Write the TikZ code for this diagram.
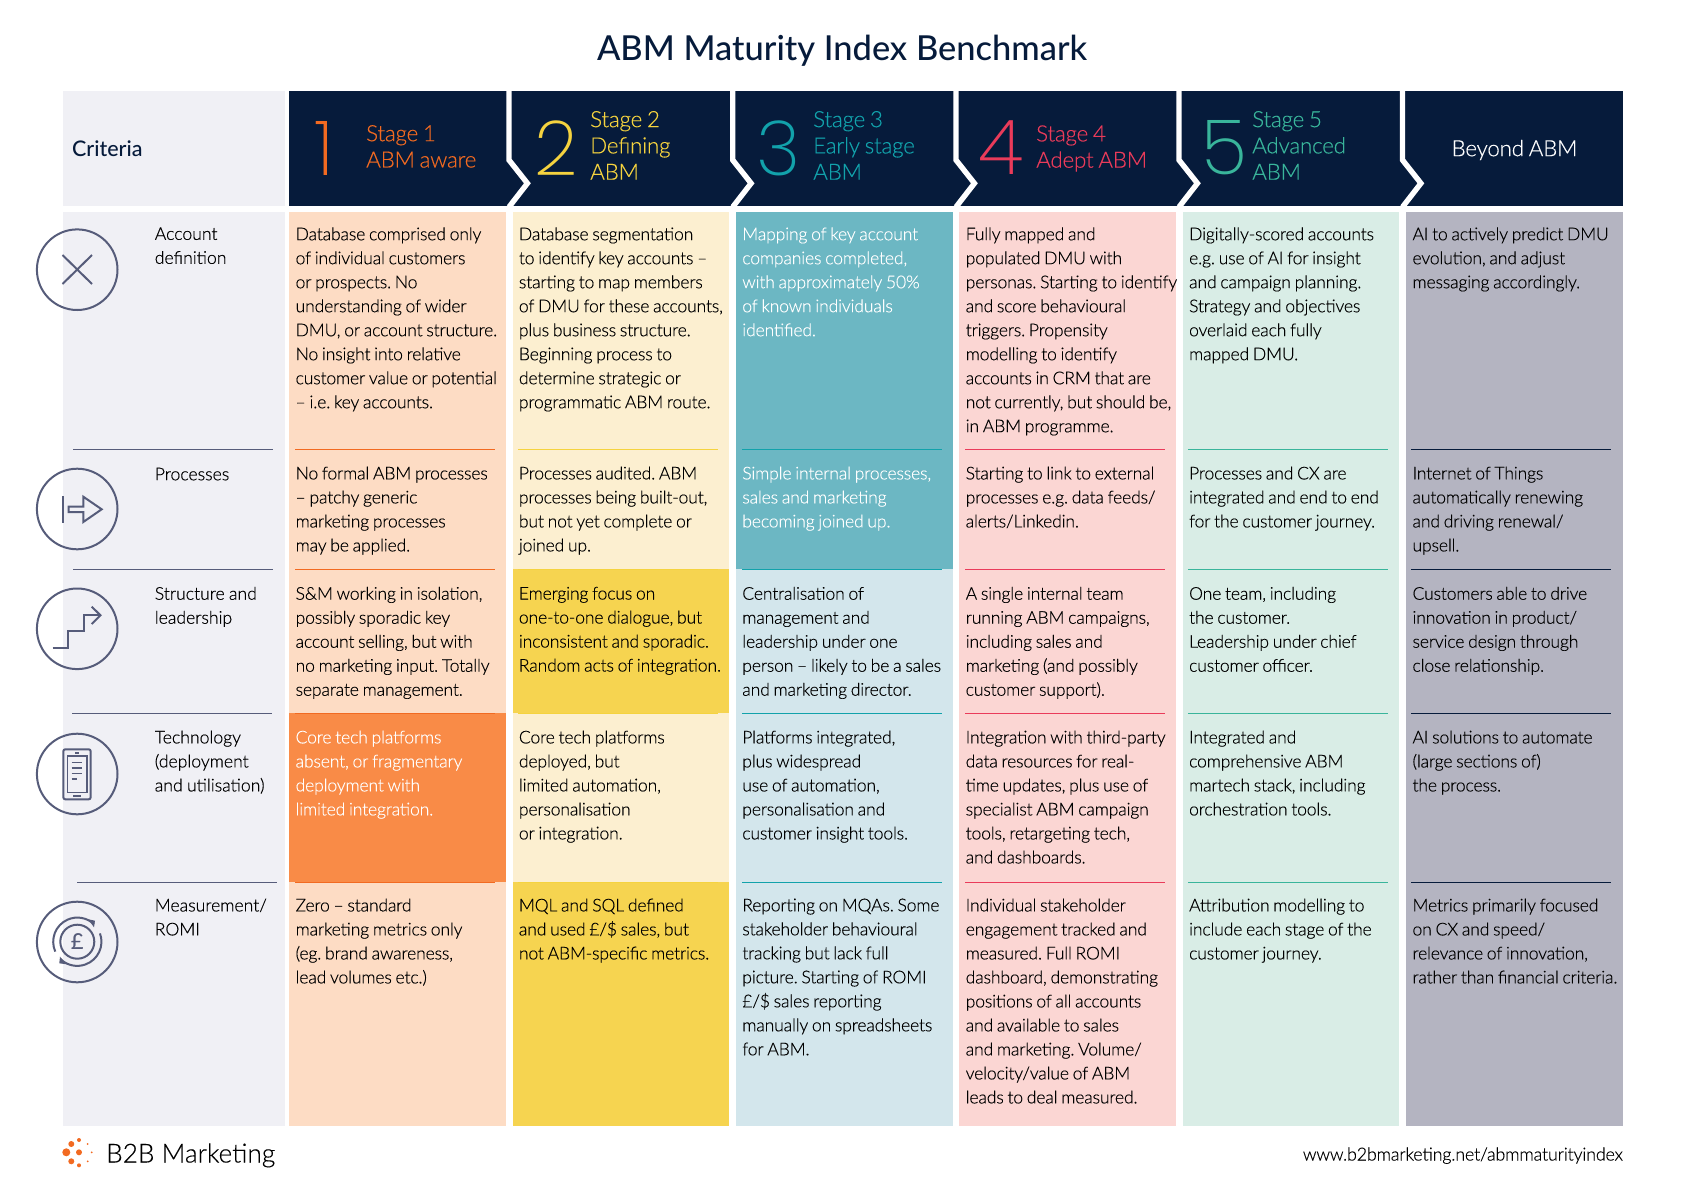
\documentclass[tikz,border=0pt]{standalone}
\usepackage{fontspec}
\setmainfont{Lato}[UprightFont=* Light,BoldFont=* Medium,UprightFeatures={FakeBold=0.25}]
\newfontfamily\numfont{Poppins}[UprightFont=* ExtraLight]
\newfontfamily\tightfont{Lato}[UprightFont=* Light,UprightFeatures={FakeBold=0.25},LetterSpace=-1,WordSpace=0.8]
\newfontfamily\critfont{Lato}[UprightFont=* Light,UprightFeatures={FakeBold=0.45},WordSpace=0.9]
\definecolor{navy}{HTML}{061B3B}
\definecolor{critbg}{HTML}{F0F0F5}
\definecolor{iconc}{HTML}{565C7A}
\definecolor{sOne}{HTML}{F26A21}
\definecolor{sTwo}{HTML}{F5D33F}
\definecolor{sThree}{HTML}{12A2AB}
\definecolor{sFour}{HTML}{EA3B5A}
\definecolor{sFive}{HTML}{39B59B}
\definecolor{lOne}{HTML}{FDDCC4}
\definecolor{dOne}{HTML}{F98B47}
\definecolor{lTwo}{HTML}{FCEFD0}
\definecolor{dTwo}{HTML}{F6D450}
\definecolor{lThree}{HTML}{D3E6EC}
\definecolor{dThree}{HTML}{6CB7C3}
\definecolor{lFour}{HTML}{FBD6D3}
\definecolor{lFive}{HTML}{D9EDE6}
\definecolor{lSix}{HTML}{B4B4C1}
\begin{document}
\frenchspacing
\begin{tikzpicture}[x=1pt,y=-1pt,
    cell/.style={anchor=north west,inner sep=0pt,align=left,text=black,
      font=\tightfont\fontsize{17.6}{24}\selectfont,execute at begin node={\rule{0pt}{16.8pt}}},
    whitecell/.style={cell,text=white},
    crit/.style={cell,font=\critfont\fontsize{17.6}{24}\selectfont},
    stage/.style={anchor=west,inner sep=0pt,align=left,font=\tightfont\fontsize{22.4}{26.3}\selectfont},
    numeral/.style={inner sep=0pt,font=\numfont\fontsize{76}{76}\selectfont},
    icon/.style={iconc,line width=2pt}]
  \useasboundingbox (0,0) rectangle (1684,1191);
  \node[font=\bfseries\fontsize{34.4}{40}\selectfont,text=navy,inner sep=0pt] (title) at (842,51) {ABM Maturity Index Benchmark};
  % backgrounds
  \fill[critbg] (62.5,90.5) rectangle (284.5,205.5);
  \fill[critbg] (62.5,212) rectangle (284.5,1125.5);
  \fill[navy] (289,90.5) rectangle (1623,205.5);
  \foreach \x in {509,732.7,956,1179,1402.5}
    \draw[white,line width=5.4pt] (\x,88) -- (\x,160) -- (\x+18.4,183.3) -- (\x,207);
  \foreach \x/\c in {289/lOne,512.5/lTwo,736/lThree,959.3/lFour,1182.5/lFive,1406/lSix}
    \fill[\c] (\x,212) rectangle +(216.8,913.5);
  \fill[dOne] (289,713) rectangle +(216.8,169);
  \fill[dTwo] (512.5,569) rectangle +(216.8,144);
  \fill[dTwo] (512.5,882) rectangle +(216.8,243.5);
  \fill[dThree] (736,212) rectangle +(216.8,357);
  % dividers
  \foreach \y in {449,569,713,882} {
    \foreach \x/\c in {295/sOne,518/sTwo,742/sThree,965/sFour,1188/sFive,1411/navy}
      \draw[\c,line width=.9pt] (\x,\y) -- +(200,0);
  }
  \foreach \a/\y in {73/449.3,73/569.3,72/713.3,77.3/882.3}
    \draw[iconc,line width=1pt] (\a,\y) -- +(200,0);
  % icons
  \foreach \y in {269.7,509,628.8,774,942}
    \draw[icon] (77.2,\y) circle (40.3);
  \draw[icon] (62.5,255) -- (92,284) (62.5,284) -- (92,255);
  \draw[icon] (63.3,496) -- (63.3,523);
  \draw[icon] (68.7,506.7) -- (83.3,506.7) -- (83.3,496.7) -- (101.7,509.3) -- (83.3,522) -- (83.3,512) -- (68.7,512) -- cycle;
  \draw[icon] (52.7,648.3) -- (68.3,648.3) -- (68.3,631) -- (83.7,631) -- (83.7,615) -- (100,615);
  \draw[icon] (91.7,606.7) -- (100.5,615.3) -- (91.7,624);
  \draw[icon,rounded corners=2pt] (63.3,749.3) rectangle (90.7,799.3);
  \draw[icon,line width=1.2pt] (67.3,756) rectangle (87,792.7);
  \draw[icon] (75,752.8) -- (79.3,752.8) (73.3,795.5) -- (80.7,795.5);
  \foreach \y in {762.7,768,773.3}
    \draw[icon,line width=1.3pt] (71.7,\y) -- (82.3,\y);
  \draw[icon,line width=1.3pt] (71.7,779) -- (77.3,779);
  \draw[icon] (77.3,941.7) circle (17);
  \draw[icon] (55.3,951.6) arc[start angle=156,end angle=313,radius=24.2];
  \draw[icon] (100,933.4) arc[start angle=-20,end angle=133,radius=24.2];
  \fill[iconc] (88.3,919.3) -- (95,920.7) -- (94,927.3) -- cycle;
  \fill[iconc] (60,956.7) -- (59.3,963.3) -- (66.7,964.3) -- cycle;
  \node[font=\bfseries\fontsize{22}{22}\selectfont,text=iconc,inner sep=0pt] (pound) at (77.3,941.7) {£};
  % logo
  \foreach \a/\b/\r in {66.3/1152.3/4,71.3/1144/3,71.3/1161.3/3,79/1152.3/3,79/1140/2,79/1165.3/2,87.7/1144/1,87.7/1161.3/1,91.7/1152.3/1}
    \fill[sOne] (\a,\b) circle (\r);
  \node[anchor=base west,inner sep=0pt,font=\fontsize{26.2}{28}\selectfont,text=black] (brand) at (106,1162.5) {B2B Marketing};
  \node[anchor=base east,inner sep=0pt,font=\tightfont\fontsize{17.9}{24}\selectfont,text=black] (url) at (1623,1160.5) {www.b2bmarketing.net/abmmaturityindex};
  % headers
  \node[anchor=west,inner sep=0pt,font=\bfseries\fontsize{21.5}{26}\selectfont,text=navy] (criteria) at (72,149) {Criteria};
  \node[numeral,text=sOne] (numOne) at (324,148) {1};
  \node[numeral,text=sTwo] (numTwo) at (556,148) {2};
  \node[numeral,text=sThree] (numThree) at (779,148) {3};
  \node[numeral,text=sFour] (numFour) at (1001,148) {4};
  \node[numeral,text=sFive] (numFive) at (1224,148) {5};
  \node[stage,text=sOne] (stOne) at (366,146.4) {Stage 1\\ABM aware};
  \node[stage,text=sTwo] (stTwo) at (590,145.4) {Stage 2\\Defining\\ABM};
  \node[stage,text=sThree] (stThree) at (813,145.4) {Stage 3\\Early stage\\ABM};
  \node[stage,text=sFour] (stFour) at (1036,148.5) {Stage 4\\Adept ABM};
  \node[stage,text=sFive] (stFive) at (1252,145.4) {Stage 5\\Advanced\\ABM};
  \node[stage,anchor=center,text=white] (stBeyond) at (1514.5,150) {Beyond ABM};
  % criteria labels
  \node[crit] (labAcct) at (154.6,227.2) {Account\\definition};
  \node[crit] (labProc) at (154.6,463.2) {Processes};
  \node[crit] (labStruct) at (154.6,586.7) {Structure and\\leadership};
  \node[crit] (labTech) at (154.6,730.4) {Technology\\(deployment\\and utilisation)};
  \node[crit] (labMeas) at (154.6,898.4) {Measurement/\\ROMI};
  % stage 1
  \node[cell] (acctOne) at (295.4,227.2) {Database comprised only\\of individual customers\\or prospects. No\\understanding of wider\\DMU, or account structure.\\No insight into relative\\customer value or potential\\– i.e. key accounts.};
  \node[cell] (procOne) at (295.4,466.4) {No formal ABM processes\\– patchy generic\\marketing processes\\may be applied.};
  \node[cell] (structOne) at (295.4,586.7) {S\&M working in isolation,\\possibly sporadic key\\account selling, but with\\no marketing input. Totally\\separate management.};
  \node[whitecell] (techOne) at (295.4,730.4) {Core tech platforms\\absent, or fragmentary\\deployment with\\limited integration.};
  \node[cell] (measOne) at (295.4,898.4) {Zero – standard\\marketing metrics only\\(eg. brand awareness,\\lead volumes etc.)};
  % stage 2
  \node[cell] (acctTwo) at (518.7,227.2) {Database segmentation\\to identify key accounts –\\starting to map members\\of DMU for these accounts,\\plus business structure.\\Beginning process to\\determine strategic or\\programmatic ABM route.};
  \node[cell] (procTwo) at (518.7,466.4) {Processes audited. ABM\\processes being built-out,\\but not yet complete or\\joined up.};
  \node[cell] (structTwo) at (518.7,586.7) {Emerging focus on\\one-to-one dialogue, but\\inconsistent and sporadic.\\Random acts of integration.};
  \node[cell] (techTwo) at (518.7,730.4) {Core tech platforms\\deployed, but\\limited automation,\\personalisation\\or integration.};
  \node[cell] (measTwo) at (518.7,898.4) {MQL and SQL defined\\and used £/\$ sales, but\\not ABM-specific metrics.};
  % stage 3
  \node[whitecell] (acctThree) at (742.1,227.2) {Mapping of key account\\companies completed,\\with approximately 50\%\\of known individuals\\identified.};
  \node[whitecell] (procThree) at (742.1,466.4) {Simple internal processes,\\sales and marketing\\becoming joined up.};
  \node[cell] (structThree) at (742.1,586.7) {Centralisation of\\management and\\leadership under one\\person – likely to be a sales\\and marketing director.};
  \node[cell] (techThree) at (742.1,730.4) {Platforms integrated,\\plus widespread\\use of automation,\\personalisation and\\customer insight tools.};
  \node[cell] (measThree) at (742.1,898.4) {Reporting on MQAs. Some\\stakeholder behavioural\\tracking but lack full\\picture. Starting of ROMI\\£/\$ sales reporting\\manually on spreadsheets\\for ABM.};
  % stage 4
  \node[cell] (acctFour) at (965.5,227.2) {Fully mapped and\\populated DMU with\\personas. Starting to identify\\and score behavioural\\triggers. Propensity\\modelling to identify\\accounts in CRM that are\\not currently, but should be,\\in ABM programme.};
  \node[cell] (procFour) at (965.5,466.4) {Starting to link to external\\processes e.g. data feeds/\\alerts/Linkedin.};
  \node[cell] (structFour) at (965.5,586.7) {A single internal team\\running ABM campaigns,\\including sales and\\marketing (and possibly\\customer support).};
  \node[cell] (techFour) at (965.5,730.4) {Integration with third-party\\data resources for real-\\time updates, plus use of\\specialist ABM campaign\\tools, retargeting tech,\\and dashboards.};
  \node[cell] (measFour) at (965.5,898.4) {Individual stakeholder\\engagement tracked and\\measured. Full ROMI\\dashboard, demonstrating\\positions of all accounts\\and available to sales\\and marketing. Volume/\\velocity/value of ABM\\leads to deal measured.};
  % stage 5
  \node[cell] (acctFive) at (1188.9,227.2) {Digitally-scored accounts\\e.g. use of AI for insight\\and campaign planning.\\Strategy and objectives\\overlaid each fully\\mapped DMU.};
  \node[cell] (procFive) at (1188.9,466.4) {Processes and CX are\\integrated and end to end\\for the customer journey.};
  \node[cell] (structFive) at (1188.9,586.7) {One team, including\\the customer.\\Leadership under chief\\customer officer.};
  \node[cell] (techFive) at (1188.9,730.4) {Integrated and\\comprehensive ABM\\martech stack, including\\orchestration tools.};
  \node[cell] (measFive) at (1188.9,898.4) {Attribution modelling to\\include each stage of the\\customer journey.};
  % beyond
  \node[cell] (acctSix) at (1412.3,227.2) {AI to actively predict DMU\\evolution, and adjust\\messaging accordingly.};
  \node[cell] (procSix) at (1412.3,466.4) {Internet of Things\\automatically renewing\\and driving renewal/\\upsell.};
  \node[cell] (structSix) at (1412.3,586.7) {Customers able to drive\\innovation in product/\\service design through\\close relationship.};
  \node[cell] (techSix) at (1412.3,730.4) {AI solutions to automate\\(large sections of)\\the process.};
  \node[cell] (measSix) at (1412.3,898.4) {Metrics primarily focused\\on CX and speed/\\relevance of innovation,\\rather than financial criteria.};
\end{tikzpicture}
\end{document}
